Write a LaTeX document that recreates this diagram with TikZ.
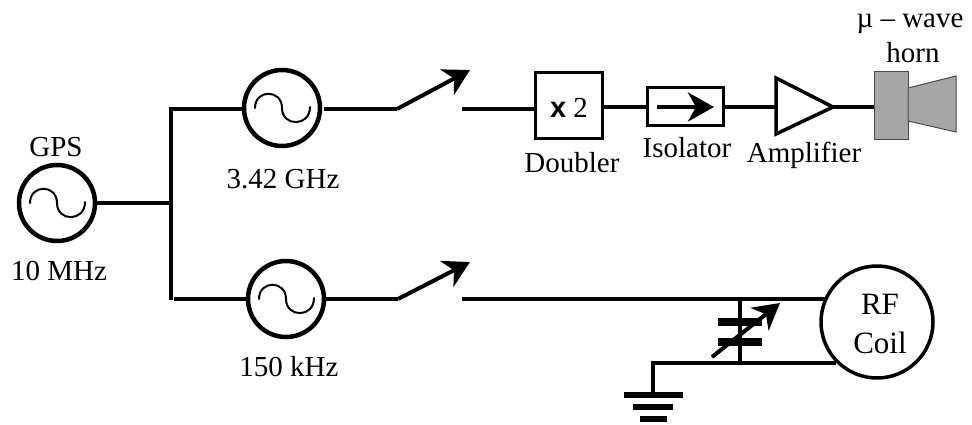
\documentclass[tikz,border=0pt]{standalone}
\usepackage{fontspec}
\setmainfont{Liberation Serif}
\newfontfamily\sansbold{Liberation Sans}
\usetikzlibrary{arrows.meta}
\tikzset{
  x=1pt,y=-1pt,
  wire/.style={line width=4pt,line cap=butt},
  osc/.style={circle,draw,line width=4.5pt,minimum size=76pt,inner sep=0pt},
  blockbox/.style={draw,line width=3.5pt,rectangle,inner sep=0pt},
  lbl/.style={anchor=base,inner sep=0pt,font=\fontsize{29}{32}\selectfont},
  lblbig/.style={anchor=base,inner sep=0pt,font=\fontsize{31}{34}\selectfont},
  arrowline/.style={line width=4pt,-{Stealth[length=26pt,width=29pt,inset=8pt]}},
  plate/.style={line width=7.5pt},
  wave/.style={line width=2pt,line cap=round},
  hornfill/.style={fill=black!35,draw=black!70,line width=1pt},
}
\newcommand{\sinewave}[1]{%
  \draw[wave] ([shift={(-27,0)}]#1.center) .. controls ([shift={(-27,-19)}]#1.center) and ([shift={(0,-19)}]#1.center) .. (#1.center) .. controls ([shift={(0,19)}]#1.center) and ([shift={(28,19)}]#1.center) .. ([shift={(28,-1)}]#1.center);}
\begin{document}
\begin{tikzpicture}
\useasboundingbox (0,0) rectangle (972,424);
% oscillators
\node[osc] (gps) at (57,203) {};
\node[osc] (osca) at (282,108) {};
\node[osc] (oscb) at (286,299) {};
\sinewave{gps}\sinewave{osca}\sinewave{oscb}
% junction coordinates
\coordinate (jtop) at (171,107);
\coordinate (jmid) at (171,203);
\coordinate (jbot) at (171,300);
\coordinate (jbotr) at (174,299);
\coordinate (jtopl) at (169,109);
\draw[wire] (gps.east) -- (jmid);
\draw[line width=4.5pt] (jtop) -- (jbot);
\draw[wire] (jtopl) -- (osca.west |- jtopl);
\draw[wire] (jbotr) -- (oscb.west);
% switches
\coordinate (swa) at (397,109);
\coordinate (swat) at (470,70);
\coordinate (swb) at (398,299);
\coordinate (swbt) at (470,262);
\coordinate (swaout) at (462,109);
\coordinate (swbout) at (462,299);
\coordinate (oscagap) at (324,109);
\draw[wire] (oscagap) -- (swa);
\draw[arrowline] (swa) -- (swat);
\draw[wire] (oscb.east) -- (swb);
\draw[arrowline] (swb) -- (swbt);
% top chain
\node[blockbox,minimum width=67pt,minimum height=66pt] (dbl) at (569,105.5) {};
\node[lbl] (dbltxt) at (569,117) {{\sansbold\bfseries x} 2};
\node[blockbox,minimum width=76pt,minimum height=38pt] (iso) at (685.5,106.5) {};
\coordinate (isoa) at (657,107);
\coordinate (isob) at (714,107);
\draw[arrowline] (isoa) -- (isob);
\coordinate (ampa) at (776,78);
\coordinate (ampb) at (776,134);
\coordinate (ampc) at (833,107);
\draw[line width=3.5pt,line join=miter,fill=white] (ampa) -- (ampc) -- (ampb) -- cycle;
\node[hornfill,rectangle,inner sep=0pt,minimum width=34pt,minimum height=68pt] (hornbox) at (891,105) {};
\draw[hornfill] (908,88) -- (956,76) -- (956,132) -- (908,121) -- cycle;
\draw[wire] (swaout) -- (swaout -| dbl.west);
\draw[wire] (dbl.east |- ampc) -- (iso.west |- ampc);
\draw[wire] (iso.east |- ampc) -- (ampa |- ampc);
\draw[wire] (ampc) -- (ampc -| hornbox.west);
% RF coil
\node[circle,draw,line width=3.5pt,minimum size=112pt,inner sep=0pt] (coil) at (877,322) {};
\coordinate (capt) at (740,299);
\coordinate (capb) at (740,363);
\coordinate (gndtop) at (653,363);
\coordinate (gndbar) at (653,395);
\coordinate (coilt) at (827,299);
\coordinate (coilb) at (836,363);
\draw[wire] (swbout) -- (coilt);
\draw[wire,line join=miter] (gndbar) -- (gndtop) -- (coilb);
\draw[wire] (capt) -- (capb);
\draw[plate] (718,322) -- (762,322);
\draw[plate] (718,342) -- (762,342);
\coordinate (capa) at (712,357);
\coordinate (capc) at (780,303);
\draw[arrowline] (capa) -- (capc);
\draw[line width=6pt] (624,395) -- (683,395);
\draw[line width=6pt] (633,407) -- (673,407);
\draw[line width=6pt] (640,419) -- (667,419);
% labels
\node[lbl] (l1) at (56,156) {GPS};
\node[lbl] (l2) at (59,280) {10 MHz};
\node[lbl] (l3) at (283,188) {3.42 GHz};
\node[lbl] (l4) at (289,376) {150 kHz};
\node[lbl] (l5) at (572,172) {Doubler};
\node[lbl] (l6) at (687,157) {Isolator};
\node[lbl] (l7) at (804,162) {Amplifier};
\node[lbl] (l8) at (910,27) {µ – wave};
\node[lbl] (l9) at (913,62) {horn};
\node[lblbig] (l10) at (880,314) {RF};
\node[lblbig] (l11) at (880,353) {Coil};
\end{tikzpicture}
\end{document}
